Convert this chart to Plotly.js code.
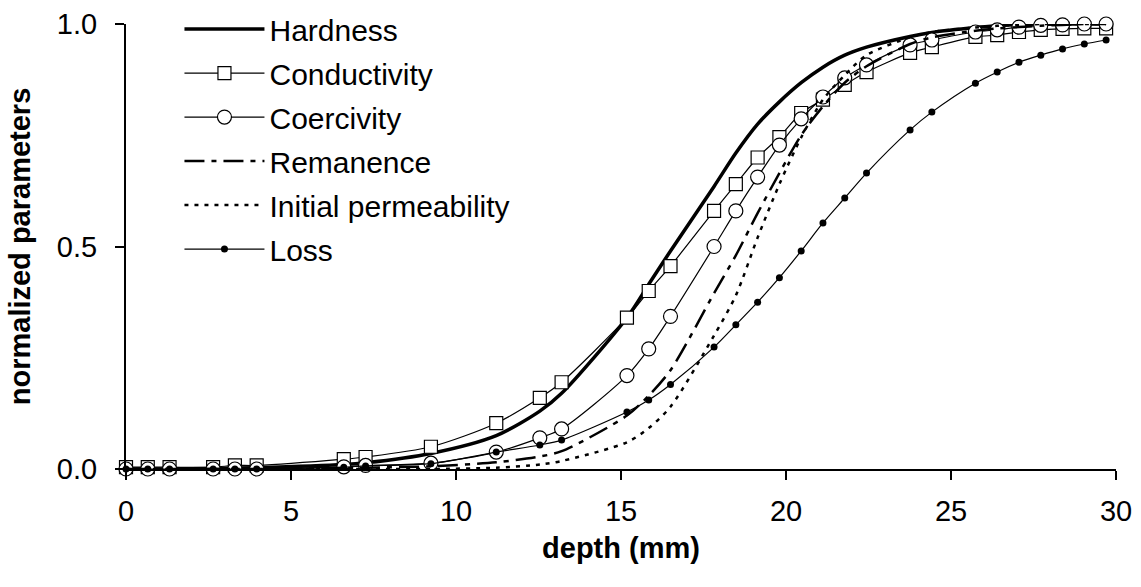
<!DOCTYPE html>
<html>
<head>
<meta charset="utf-8">
<script src="https://cdn.plot.ly/plotly-3.0.1.min.js"></script>
<style>
html,body{margin:0;padding:0;background:#fff;}
#chart{width:1141px;height:587px;}
</style>
</head>
<body>
<div id="chart"></div>
<script>
// depth (mm) of measurement points
const depth = [0, 0.66, 1.32, 2.64, 3.3, 3.96, 6.6, 7.26, 9.24, 11.22, 12.54, 13.2, 15.18, 15.84, 16.5, 17.82, 18.48, 19.14, 19.8, 20.46, 21.12, 21.78, 22.44, 23.76, 24.42, 25.74, 26.4, 27.06, 27.72, 28.38, 29.04, 29.7];

const hardness = [0, 0, 0, 0.001, 0.002, 0.003, 0.01, 0.014, 0.035, 0.075, 0.13, 0.17, 0.34, 0.415, 0.49, 0.635, 0.71, 0.775, 0.825, 0.868, 0.903, 0.93, 0.948, 0.972, 0.981, 0.992, 0.996, 0.999, 1, 1, 1, 1];

const conductivity = [0.004, 0.004, 0.004, 0.004, 0.008, 0.008, 0.022, 0.027, 0.05, 0.103, 0.16, 0.195, 0.34, 0.40, 0.456, 0.58, 0.64, 0.70, 0.746, 0.80, 0.83, 0.863, 0.892, 0.935, 0.948, 0.971, 0.975, 0.982, 0.987, 0.989, 0.99, 0.99];

const coercivity = [0, 0, 0, 0, 0, 0, 0.005, 0.008, 0.013, 0.038, 0.07, 0.09, 0.21, 0.27, 0.343, 0.50, 0.58, 0.656, 0.728, 0.787, 0.836, 0.879, 0.908, 0.953, 0.964, 0.982, 0.987, 0.993, 0.997, 0.998, 1.0, 1.0];

const remanence = [0, 0, 0, 0, 0, 0, 0.002, 0.003, 0.006, 0.015, 0.028, 0.04, 0.12, 0.165, 0.222, 0.395, 0.48, 0.575, 0.665, 0.75, 0.815, 0.868, 0.905, 0.955, 0.97, 0.985, 0.99, 0.993, 0.996, 0.998, 1, 1];

const initialPerm = [0, 0, 0, 0, 0, 0, 0, 0, 0, 0.003, 0.01, 0.018, 0.06, 0.092, 0.14, 0.30, 0.39, 0.52, 0.64, 0.745, 0.83, 0.885, 0.93, 0.97, 0.982, 0.992, 0.996, 0.998, 1, 1, 1, 1];

const loss = [0, 0, 0, 0, 0, 0, 0.004, 0.007, 0.012, 0.038, 0.054, 0.065, 0.128, 0.155, 0.19, 0.274, 0.324, 0.375, 0.43, 0.49, 0.553, 0.609, 0.665, 0.762, 0.802, 0.867, 0.892, 0.914, 0.93, 0.944, 0.955, 0.964];

const seriesNames = ["Hardness", "Conductivity", "Coercivity", "Remanence", "Initial permeability", "Loss"];
const xTitle = "depth (mm)";
const yTitle = "normalized parameters";

const sp = {shape: 'spline', smoothing: 0.8};

const traces = [
  {x: depth, y: hardness, name: seriesNames[0], mode: 'lines',
   line: Object.assign({color: '#000', width: 3.5}, sp)},
  {x: depth, y: conductivity, name: seriesNames[1], mode: 'lines+markers',
   line: Object.assign({color: '#000', width: 1.2}, sp),
   marker: {symbol: 'square', size: 13, color: '#fff', line: {color: '#000', width: 1.2}}},
  {x: depth, y: coercivity, name: seriesNames[2], mode: 'lines+markers',
   line: Object.assign({color: '#000', width: 1.2}, sp),
   marker: {symbol: 'circle', size: 14, color: '#fff', line: {color: '#000', width: 1.2}}},
  {x: depth, y: remanence, name: seriesNames[3], mode: 'lines',
   line: Object.assign({color: '#000', width: 2.5, dash: '20px,7px,5px,7px'}, sp)},
  {x: depth, y: initialPerm, name: seriesNames[4], mode: 'lines',
   line: Object.assign({color: '#000', width: 2.5, dash: '4px,6px'}, sp)},
  {x: depth, y: loss, name: seriesNames[5], mode: 'lines+markers',
   line: Object.assign({color: '#000', width: 1.2}, sp),
   marker: {symbol: 'circle', size: 7, color: '#000'}}
];
traces.forEach((t, i) => { t.cliponaxis = false; t.legendgroup = 'g' + i; });

const font = {family: 'Liberation Sans, Arial, sans-serif', color: '#000'};

const layout = {
  width: 1141, height: 587,
  margin: {l: 126, r: 25, t: 24, b: 118, autoexpand: false},
  paper_bgcolor: '#fff', plot_bgcolor: '#fff',
  font: Object.assign({size: 29}, font),
  showlegend: true,
  legend: {x: 0.054, y: 1.047, xanchor: 'left', yanchor: 'top',
           bgcolor: 'rgba(0,0,0,0)', itemwidth: 80, tracegroupgap: 2,
           font: Object.assign({size: 30}, font), itemclick: false},
  xaxis: {
    range: [0, 30], dtick: 5, tick0: 0, showgrid: false, zeroline: false, automargin: false,
    showline: true, linecolor: '#000', linewidth: 2,
    ticks: 'outside', ticklen: 9, tickwidth: 2, tickcolor: '#000',
    ticklabelstandoff: 6,
    tickfont: Object.assign({size: 29}, font),
    title: {text: xTitle, font: Object.assign({size: 29, weight: 'bold'}, font), standoff: 12}
  },
  yaxis: {
    range: [0, 1], dtick: 0.5, tick0: 0, tickformat: '.1f', showgrid: false, zeroline: false, automargin: false,
    showline: true, linecolor: '#000', linewidth: 2,
    ticks: 'outside', ticklen: 9, tickwidth: 2, tickcolor: '#000',
    ticklabelstandoff: 12,
    tickfont: Object.assign({size: 29}, font),
    title: {text: yTitle, font: Object.assign({size: 29, weight: 'bold'}, font), standoff: 18}
  }
};

Plotly.newPlot('chart', traces, layout, {displayModeBar: false, staticPlot: true});
</script>
</body>
</html>
